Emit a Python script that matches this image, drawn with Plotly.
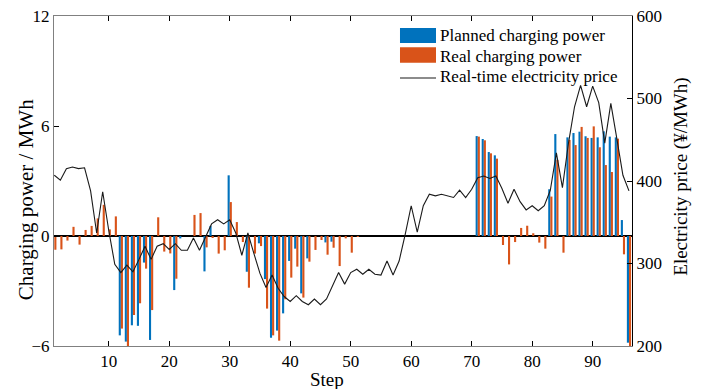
import plotly.graph_objects as go

steps = list(range(1, 97))

planned = [0, 0, 0, 0, 0, 0, 0, 0, 0, 0,
           0, -5.42, -5.76, -4.87, -4.90, -1.45, -5.67, 0, 0, 0,
           -2.95, -0.13, 0, 0, 0, -1.93, 0.55, 0, 0, 3.31,
           0, 0, -1.95, 0, -0.40, -2.35, -5.55, -5.16, -4.22, -1.36,
           -0.69, -3.13, -1.22, 0, 0, -0.35, -0.31, 0, 0, 0,
           0, 0, 0, 0, 0, 0, 0, 0, 0, 0,
           0, 0, 0, 0, 0, 0, 0, 0, 0, 0,
           5.45, 5.29, 4.58, 4.40, 0, 0, 0, 0, 0, 0,
           0, 0, 2.55, 5.56, 0, 5.38, 5.62, 5.69, 5.44, 5.35,
           5.38, 5.71, 5.42, 5.38, 0.87, -5.82]

real = [-0.75, -0.73, -0.25, 0.50, -0.47, 0.33, 0.55, 0.96, 1.70, 0.36,
        1.07, -5.05, -6.05, -4.31, -3.67, -1.78, -4.04, 1.02, -0.85, -0.95,
        -2.33, 0, 0, 1.15, 1.25, -0.62, -0.10, -0.96, -0.78, 1.85,
        0.76, -0.33, -2.82, -0.96, -0.55, -3.96, -5.42, -5.71, -3.45, -2.27,
        -1.67, -3.36, -1.40, -0.76, -0.22, -1.02, -0.64, -1.64, -0.13, -0.91,
        -0.05, 0, 0, 0, 0, 0, 0, 0, 0, 0,
        0, 0, 0, 0, 0, 0, 0, 0, 0, 0,
        5.42, 5.22, 4.51, 4.22, -0.49, -1.55, -0.33, 0.44, 0.56, 0.15,
        -0.36, -0.69, 2.15, 4.15, -0.91, 5.24, 4.96, 5.95, 5.35, 5.98,
        4.84, 3.87, 3.49, 5.31, -1.00, -6.05]

price = [407, 401, 415, 417, 415, 416, 388, 337, 387, 340,
         299, 289, 298, 290, 305, 321, 305, 321, 324, 317,
         324, 316, 316, 331, 316, 332, 348, 353, 348, 353,
         337, 310, 337, 312, 288, 271, 286, 270, 260, 254,
         261, 254, 250, 257, 250, 257, 274, 289, 275, 289,
         293, 287, 293, 287, 286, 303, 286, 303, 335, 370,
         338, 370, 384, 382, 384, 382, 380, 389, 380, 390,
         404, 406, 403, 406, 391, 373, 390, 375, 365, 370,
         364, 370, 389, 434, 392, 446, 490, 516, 490, 515,
         495, 446, 494, 451, 407, 388]

x_ticks = [10, 20, 30, 40, 50, 60, 70, 80, 90]
left_ticks = [-6, 0, 6, 12]
right_ticks = [200, 300, 400, 500, 600]
series_names = ["Planned charging power", "Real charging power",
                "Real-time electricity price"]
x_title = "Step"
y_title = "Charging power / MWh"
y2_title = "Electricity price (¥/MWh)"

FONT = "Liberation Serif, Times New Roman, serif"
BLUE = "#0072BD"
ORANGE = "#D95319"
GRAY = "#808080"
LINE = "#1a1a1a"

fig = go.Figure()
fig.add_trace(go.Bar(x=steps, y=planned, name=series_names[0],
                     marker=dict(color=BLUE, line=dict(width=0))))
fig.add_trace(go.Bar(x=steps, y=real, name=series_names[1],
                     marker=dict(color=ORANGE, line=dict(width=0))))
fig.add_trace(go.Scatter(x=steps, y=price, name=series_names[2],
                         mode="lines", line=dict(color=LINE, width=1.1),
                         yaxis="y2"))

# legend drawn in paper coordinates (MATLAB-style wide swatches)
sw_x0, sw_x1 = 0.5986, 0.6609
shapes = [
    dict(type="rect", xref="paper", yref="paper", x0=sw_x0, x1=sw_x1,
         y0=0.918, y1=0.9636, fillcolor=BLUE, line=dict(width=0)),
    dict(type="rect", xref="paper", yref="paper", x0=sw_x0, x1=sw_x1,
         y0=0.8585, y1=0.9052, fillcolor=ORANGE, line=dict(width=0)),
    dict(type="line", xref="paper", yref="paper", x0=sw_x0, x1=sw_x1,
         y0=0.8121, y1=0.8121, line=dict(color=LINE, width=1.1)),
]
legend_y = [0.9394, 0.8773, 0.8152]
annotations = [
    dict(text=series_names[i], xref="paper", yref="paper", x=0.6644,
         y=legend_y[i], xanchor="left", yanchor="middle", showarrow=False,
         font=dict(family=FONT, size=17, color="black"))
    for i in range(3)
]
annotations += [
    dict(text=x_title, xref="paper", yref="paper", x=0.4723, y=-0.103,
         xanchor="center", yanchor="middle", showarrow=False,
         font=dict(family=FONT, size=19, color="black")),
    dict(text=y_title, xref="paper", yref="paper", x=-0.0484, y=0.442,
         xanchor="center", yanchor="middle", showarrow=False, textangle=-90,
         font=dict(family=FONT, size=21, color="black")),
    dict(text=y2_title, xref="paper", yref="paper", x=1.0848, y=0.513,
         xanchor="center", yanchor="middle", showarrow=False, textangle=-90,
         font=dict(family=FONT, size=19, color="black")),
]

fig.update_layout(
    width=702, height=389,
    margin=dict(l=54, r=70, t=16, b=43),
    plot_bgcolor="white", paper_bgcolor="white",
    font=dict(family=FONT, size=16, color="black"),
    barmode="group", bargap=0.3, bargroupgap=0,
    showlegend=False,
    shapes=shapes, annotations=annotations,
    xaxis=dict(range=[0.95, 96.5], tickvals=x_ticks, ticks="inside", ticklen=5,
               tickcolor="black", showline=True, linecolor=GRAY, linewidth=1,
               mirror="ticks", showgrid=False, zeroline=False, automargin=False,
               tickfont=dict(family=FONT, size=17)),
    yaxis=dict(range=[-6, 12], tickvals=left_ticks, ticks="inside", ticklen=5,
               tickcolor="black", showline=True, linecolor=GRAY, linewidth=1,
               showgrid=False, zeroline=True, zerolinecolor="black",
               zerolinewidth=1.5, automargin=False,
               tickfont=dict(family=FONT, size=17)),
    yaxis2=dict(range=[200, 600], tickvals=right_ticks, ticks="inside", ticklen=5,
                tickcolor="black", showline=True, linecolor="black", linewidth=1,
                overlaying="y", side="right", showgrid=False, zeroline=False,
                automargin=False,
                tickfont=dict(family=FONT, size=17)),
)

fig.write_html("out.html", config={"displayModeBar": False},
               post_script="document.body.style.margin='0px';")
